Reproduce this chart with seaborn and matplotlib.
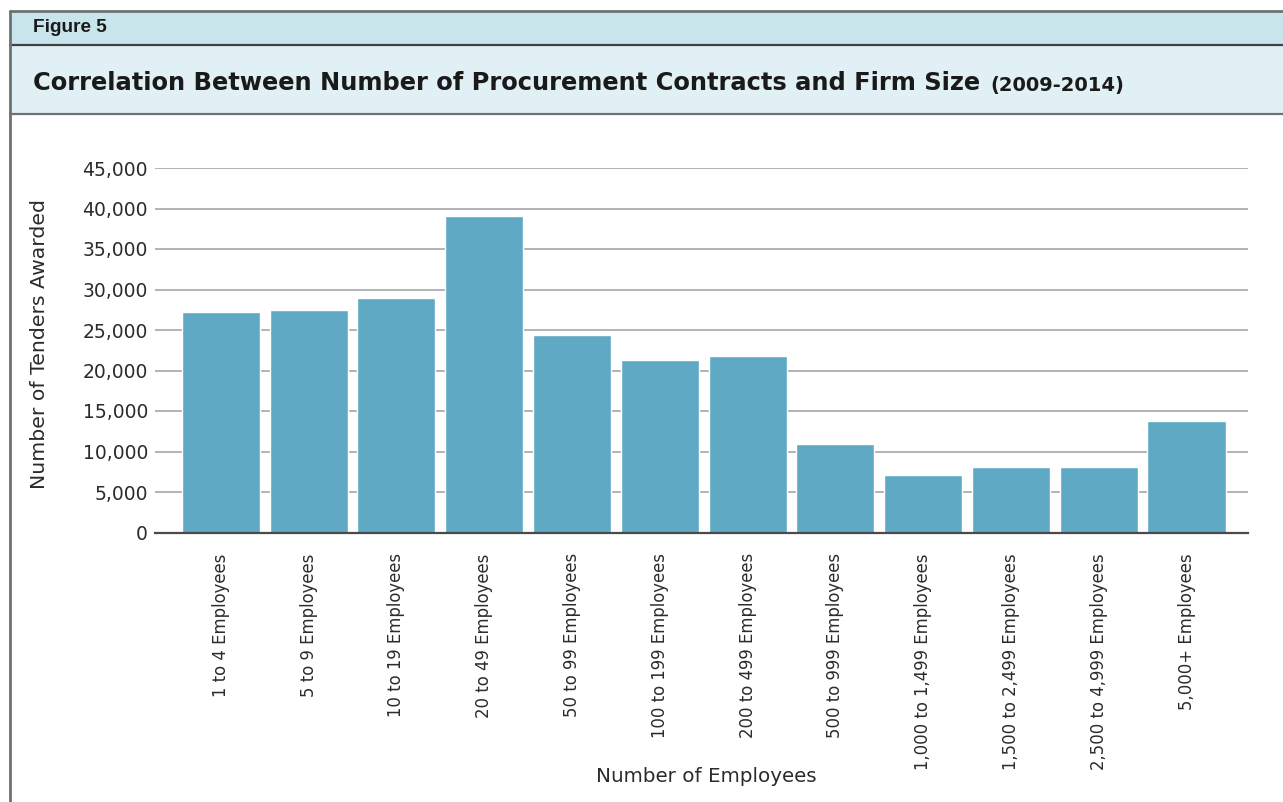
import matplotlib
matplotlib.use("Agg")
import matplotlib.pyplot as plt
from matplotlib.patches import Rectangle
from matplotlib.lines import Line2D
from matplotlib.ticker import FuncFormatter
import seaborn as sns
import pandas as pd

# Firm size buckets and number of tenders awarded (2009-2014)
categories = [
    "1 to 4 Employees", "5 to 9 Employees", "10 to 19 Employees",
    "20 to 49 Employees", "50 to 99 Employees", "100 to 199 Employees",
    "200 to 499 Employees", "500 to 999 Employees", "1,000 to 1,499 Employees",
    "1,500 to 2,499 Employees", "2,500 to 4,999 Employees", "5,000+ Employees",
]
tenders = [27200, 27500, 29000, 39100, 24400, 21300, 21800, 10900, 7100, 8100, 8100, 13800]
y_ticks = [0, 5000, 10000, 15000, 20000, 25000, 30000, 35000, 40000, 45000]

df = pd.DataFrame({"size": categories, "tenders": tenders})

sns.set_theme(style="white")
plt.rcParams["font.family"] = ["DejaVu Sans"]

W, H = 1283, 802
TEXT = "#2b2b2b"
fig = plt.figure(figsize=(W / 100, H / 100), dpi=100)
fig.patch.set_facecolor("white")


def fx(px):
    return px / W


def fy(py):
    return 1 - py / H


# Header bands
fig.patches.append(Rectangle((fx(10), fy(45)), fx(W - 10), fy(11) - fy(45),
                             transform=fig.transFigure, facecolor="#c9e5ec",
                             edgecolor="none", zorder=0))
fig.patches.append(Rectangle((fx(10), fy(114)), fx(W - 10), fy(45) - fy(114),
                             transform=fig.transFigure, facecolor="#e0f0f4",
                             edgecolor="none", zorder=0))
for ypix, col, lw in [(11, "#6d7173", 2.0), (45, "#3d4143", 1.6), (114, "#6d7173", 1.6)]:
    fig.lines.append(Line2D([fx(10), 1], [fy(ypix), fy(ypix)],
                            transform=fig.transFigure, color=col, lw=lw))
fig.lines.append(Line2D([fx(10), fx(10)], [fy(11), 0],
                        transform=fig.transFigure, color="#6d7173", lw=2.0))

fig.text(fx(33), fy(28), "Figure 5", fontsize=13.7, fontweight="bold",
         family=["Liberation Sans", "DejaVu Sans"],
         color="#1a1a1a", va="center", ha="left")
title = fig.text(fx(33), fy(83),
                 "Correlation Between Number of Procurement Contracts and Firm Size",
                 fontsize=17.4, fontweight="bold",
                 color="#1a1a1a", va="center", ha="left")
fig.canvas.draw()
bb = title.get_window_extent()
fig.text(bb.x1 / W + fx(10), fy(85), "(2009-2014)", fontsize=14,
         fontweight="bold", color="#1a1a1a", va="center", ha="left")

# Bar chart
ax = fig.add_axes([fx(155), fy(532.5), fx(1248) - fx(155), fy(168) - fy(532.5)])
sns.barplot(data=df, x="size", y="tenders", color="#5fa9c4", saturation=1,
            width=0.89, ax=ax, zorder=3)
ax.set_xlim(-0.75, 11.7)
ax.set_ylim(0, 45000)
ax.set_yticks(y_ticks)
ax.yaxis.set_major_formatter(FuncFormatter(lambda v, p: f"{int(v):,}"))
ax.grid(axis="y", color="#adadad", lw=1.3, zorder=0)
ax.set_axisbelow(True)
for s in ["top", "right", "left"]:
    ax.spines[s].set_visible(False)
ax.spines["bottom"].set_color("#4a4a4a")
ax.spines["bottom"].set_linewidth(1.6)
ax.spines["bottom"].set_zorder(5)
ax.tick_params(axis="y", length=0, pad=5, labelsize=13.5, labelcolor=TEXT)
ax.tick_params(axis="x", length=0, pad=15, labelsize=11.9, labelcolor=TEXT)
plt.setp(ax.get_xticklabels(), rotation=90, ha="center", va="top")
ax.set_xlabel("")
ax.set_ylabel("")

fig.text(fx(40), fy(344), "Number of Tenders Awarded", rotation=90,
         fontsize=14.7, color=TEXT, ha="center", va="center")
fig.text(fx(706), fy(777), "Number of Employees", fontsize=14.3,
         color=TEXT, ha="center", va="center")

fig.savefig("out.png", dpi=100, facecolor="white")
